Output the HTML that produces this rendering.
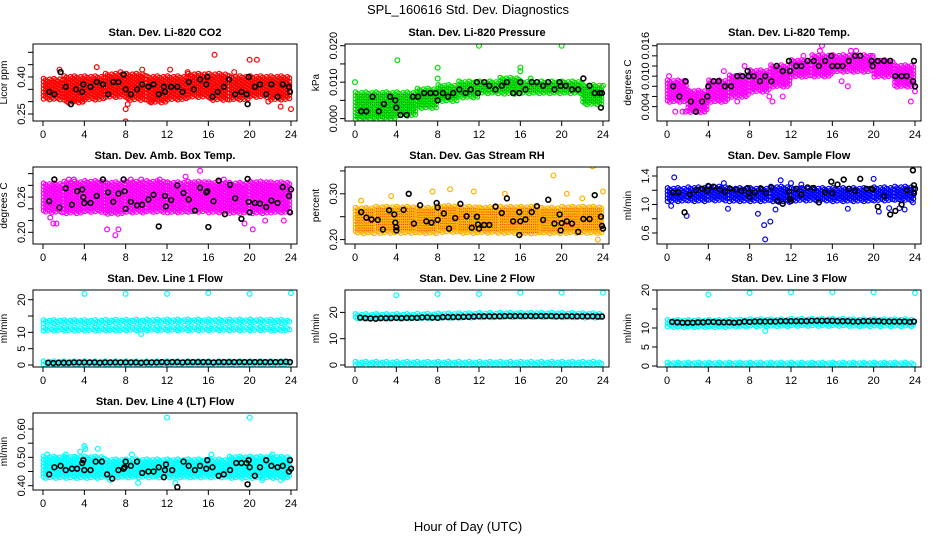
<!DOCTYPE html>
<html><head><meta charset="utf-8"><style>
body{margin:0;background:#fff;}
svg{display:block;font-family:"Liberation Sans",sans-serif;}
</style></head><body>
<svg id="chart" width="936" height="540" viewBox="0 0 936 540" xmlns="http://www.w3.org/2000/svg">
<rect width="936" height="540" fill="#fff"/>
<text x="468" y="14" text-anchor="middle" font-size="13">SPL_160616  Std. Dev. Diagnostics</text>
<text x="468" y="531" text-anchor="middle" font-size="13">Hour of Day (UTC)</text>
</svg>
<script>
// ---------- data (2-hour segments of band low/high, outliers, black points) ----------
const xTicks=[0,4,8,12,16,20,24];
// CO2
const co2Lo=[0.31,0.30,0.31,0.32,0.31,0.30,0.31,0.32,0.31,0.31,0.32,0.31];
const co2Hi=[0.39,0.40,0.40,0.41,0.41,0.40,0.40,0.41,0.41,0.40,0.40,0.40];
const co2OutH=[5.2,8,8,16.6,20,20.7,23,24,12.3,9.6,1.6,7.5,0.5,3.8,8.2,2.9,10.5,14,18.5,21.8];
const co2OutV=[0.44,0.22,0.27,0.49,0.47,0.47,0.28,0.27,0.43,0.43,0.43,0.42,0.33,0.30,0.29,0.30,0.30,0.42,0.42,0.30];
const co2BlkH=[0.6,1.1,1.7,2.2,2.7,3.2,3.8,3.9,4.6,5.2,5.8,6.3,6.8,7.3,7.8,8,8.5,9.1,9.6,10.2,10.7,11.2,11.7,11.8,12.4,13,13.5,14.1,14.6,15.2,15.8,15.9,16.4,16.9,17.5,18,18.6,19.2,19.7,19.8,19.9,20.5,21,21.6,22.1,22.7,23.2,23.8,23.9];
const co2BlkV=[0.34,0.33,0.42,0.36,0.29,0.35,0.34,0.37,0.36,0.38,0.37,0.33,0.38,0.38,0.41,0.35,0.33,0.35,0.37,0.36,0.37,0.33,0.36,0.34,0.36,0.36,0.34,0.38,0.35,0.39,0.37,0.40,0.32,0.34,0.36,0.39,0.33,0.34,0.33,0.29,0.40,0.36,0.37,0.33,0.37,0.32,0.37,0.36,0.34];
// Pressure
const prsLo=[0.000,0.000,0.001,0.003,0.005,0.006,0.007,0.007,0.007,0.007,0.007,0.004];
const prsHi=[0.007,0.007,0.007,0.008,0.009,0.010,0.010,0.011,0.010,0.010,0.010,0.009];
const prsOutH=[0,4.1,8,8,12,16,16,20,24,17,23.8];
const prsOutV=[0.010,0.016,0.014,0.011,0.020,0.014,0.013,0.020,0.009,0.011,0.003];
const prsBlkH=[0.6,1.1,1.7,2.3,2.8,3.4,3.9,4,4.4,5,5.6,6.1,6.7,7.3,7.8,8,8.5,9,9.5,10.1,10.7,11.2,11.8,11.9,12.5,13,13.6,14.2,14.7,15.3,15.9,16,16.5,17.1,17.6,18.2,18.7,19.3,19.8,19.9,20.4,21,21.6,22.1,22.7,23.2,23.7,23.8,23.9];
const prsBlkV=[0.002,0.002,0.006,0.002,0.004,0.006,0.005,0.003,0.001,0.001,0.006,0.006,0.007,0.007,0.007,0.005,0.007,0.006,0.007,0.008,0.007,0.008,0.010,0.007,0.010,0.009,0.008,0.009,0.010,0.007,0.007,0.010,0.008,0.010,0.010,0.009,0.010,0.008,0.010,0.009,0.009,0.008,0.008,0.011,0.009,0.007,0.007,0.003,0.007];
// Li-820 temp
const tmpLo=[0.005,0.003,0.005,0.006,0.007,0.008,0.010,0.010,0.011,0.011,0.010,0.008];
const tmpHi=[0.009,0.007,0.009,0.010,0.011,0.012,0.013,0.014,0.014,0.014,0.013,0.012];
const tmpOutH=[15,14.8,17.8,18.3,19.9,0.8,1.5,1.8,3,3.6,6.8,9.9,10.2,23.6,24,16.9,17.5,11.2,5.5,7.5,13.2,0.2];
const tmpOutV=[0.016,0.015,0.015,0.015,0.014,0.003,0.003,0.003,0.003,0.003,0.005,0.006,0.005,0.005,0.007,0.009,0.008,0.006,0.011,0.012,0.014,0.010];
const tmpBlkH=[0.6,1.2,1.8,2.3,2.8,3.4,3.9,4,4.5,5,5.6,6.2,6.8,7.3,7.8,7.9,8.4,9,9.5,10.1,10.6,11.2,11.8,11.9,12.5,13,13.6,14.2,14.7,15.3,15.9,16,16.5,17,17.6,18.2,18.7,19.8,19.9,20.4,21,21.6,22.1,22.7,23.2,23.8,23.9,24];
const tmpBlkV=[0.008,0.006,0.009,0.005,0.003,0.005,0.006,0.008,0.009,0.009,0.008,0.008,0.010,0.010,0.011,0.010,0.010,0.009,0.010,0.009,0.012,0.011,0.013,0.011,0.012,0.012,0.013,0.013,0.012,0.013,0.014,0.012,0.012,0.012,0.013,0.014,0.014,0.013,0.012,0.013,0.013,0.013,0.010,0.010,0.010,0.009,0.013,0.008];
// Amb box temp
const ambLo=[0.235,0.233,0.235,0.232,0.235,0.236,0.235,0.236,0.235,0.234,0.233,0.235];
const ambHi=[0.282,0.285,0.286,0.284,0.285,0.286,0.284,0.285,0.284,0.283,0.285,0.284];
const ambOutH=[0.7,1,1.3,6.2,7,7.3,15.2,3,8.5,11.3,20.3,23.3,19.5,2.5,9.5,13.8,17.5,21.5];
const ambOutV=[0.225,0.215,0.215,0.205,0.195,0.205,0.305,0.29,0.29,0.29,0.205,0.22,0.215,0.29,0.29,0.295,0.29,0.22];
const ambBlkH=[0.6,1.1,1.6,2.2,2.8,3.3,3.8,3.9,4,4.6,5.2,5.8,6.3,6.8,7.3,7.8,7.9,8,8.5,9.1,9.6,10.2,10.7,11.2,11.8,11.9,12.4,13,13.6,14.1,14.7,15.2,15.8,15.9,16,16.5,17,17.6,18.1,18.6,19.2,19.8,19.9,20,20.5,21,21.6,22.1,22.7,23.2,23.8,23.9,24];
const ambBlkV=[0.253,0.29,0.242,0.275,0.247,0.27,0.273,0.26,0.25,0.25,0.262,0.29,0.268,0.252,0.266,0.29,0.27,0.24,0.252,0.246,0.247,0.256,0.264,0.21,0.262,0.244,0.255,0.28,0.267,0.256,0.237,0.276,0.268,0.27,0.209,0.253,0.288,0.231,0.281,0.258,0.223,0.291,0.252,0.234,0.25,0.249,0.243,0.254,0.25,0.277,0.262,0.234,0.273];
// Gas stream RH
const rhLo=[0.215,0.215,0.216,0.215,0.217,0.215,0.216,0.215,0.214,0.215,0.215,0.216];
const rhHi=[0.268,0.27,0.27,0.268,0.272,0.27,0.269,0.27,0.27,0.268,0.27,0.27];
const rhOutH=[19.2,23,23.5,9.2,0.6,3.5,7.5,11.5,14.5,20.5,22,24];
const rhOutV=[0.34,0.36,0.20,0.31,0.285,0.295,0.305,0.305,0.30,0.30,0.29,0.305];
const rhBlkH=[0.6,1.1,1.6,2.2,2.7,3.3,3.8,3.9,4,4,4.7,5.2,5.7,6.3,6.9,7.4,7.9,8,8,8.6,9.1,9.7,10.2,10.8,11.3,11.8,11.9,12,12.5,13,13.6,14.2,14.7,15.3,15.9,15.9,16,16.5,17.1,17.6,18.2,18.7,19.3,19.8,19.9,20,20.5,21,21.6,22.1,22.7,23.2,23.8,23.9,24];
const rhBlkV=[0.26,0.248,0.244,0.243,0.222,0.264,0.255,0.237,0.22,0.227,0.265,0.30,0.235,0.275,0.24,0.237,0.28,0.27,0.243,0.257,0.224,0.247,0.278,0.251,0.226,0.25,0.233,0.224,0.232,0.232,0.272,0.258,0.29,0.24,0.21,0.26,0.24,0.244,0.26,0.273,0.243,0.287,0.235,0.255,0.22,0.236,0.24,0.235,0.217,0.245,0.245,0.297,0.25,0.23,0.224];
// Sample flow
const sfLo=[1.05,1.05,1.06,1.05,1.05,1.04,1.06,1.06,1.05,1.05,1.06,1.06];
const sfHi=[1.22,1.23,1.24,1.22,1.22,1.24,1.22,1.22,1.22,1.22,1.23,1.24];
const sfOutH=[0.7,0.4,1.9,5.9,8.8,9.4,9.5,10,10.5,11,12,17.5,20,20.5,21.5,22.5,23,23.8,5.5,13];
const sfOutV=[1.38,0.98,0.84,0.94,0.87,0.71,0.51,0.76,0.93,1.34,1.3,0.94,1.36,0.9,0.95,0.95,0.93,1.03,1.3,1.28];
const sfBlkH=[0.6,1.1,1.7,2.2,2.8,3.4,3.9,4,4.5,5.1,5.6,6.1,6.7,7.2,7.8,7.9,8,8.5,9.1,9.6,10.1,10.7,11.2,11.8,11.9,12,12.5,13,13.6,14.2,14.7,15.3,15.9,16,16.5,17.1,17.6,18.2,18.7,19.3,19.8,19.9,20.4,21,21.6,22.1,22.7,23.2,23.8,23.9,24,23.9];
const sfBlkV=[1.17,1.17,0.89,1.14,1.2,1.22,1.19,1.26,1.25,1.21,1.18,1.22,1.21,1.19,1.23,1.17,1.1,1.17,1.22,1.16,1.24,1.05,1.01,1.18,1.08,1.05,1.22,1.14,1.24,1.23,1.03,1.17,1.32,1.16,1.28,1.35,1.22,1.19,1.36,1.22,1.22,1.21,0.97,1.12,0.86,0.91,1.0,1.2,1.48,1.16,1.22,1.27];
// Line flows (shared black-point hours)
const lineHours=[0.5,1,1.5,2,2.5,3,3.5,4,4.5,5,5.5,6,6.5,7,7.5,8,8.5,9,9.5,10,10.5,11,11.5,12,12.5,13,13.5,14,14.5,15,15.5,16,16.5,17,17.5,18,18.5,19,19.5,20,20.5,21,21.5,22,22.5,23,23.5,23.9];
const l1LoA=[12.9,12.9,12.9,13.0,13.0,13.1,13.1,13.1,13.1,13.1,13.1,13.0];
const l1HiA=[13.5,13.5,13.5,13.6,13.6,13.7,13.7,13.7,13.7,13.7,13.7,13.6];
const l1LoB=[10.6,10.6,10.6,10.6,10.7,10.7,10.7,10.7,10.7,10.7,10.7,10.6];
const l1HiB=[11.2,11.2,11.2,11.2,11.3,11.3,11.3,11.3,11.3,11.3,11.3,11.2];
const l1LoC=[0.4,0.4,0.4,0.4,0.4,0.4,0.4,0.4,0.4,0.4,0.4,0.4];
const l1HiC=[0.9,0.9,0.9,0.9,0.9,0.9,0.9,0.9,0.9,0.9,0.9,0.9];
const l1OutH=[4,8,12,16,20,24,9.5];
const l1OutV=[21.8,21.8,21.8,22,21.8,22,9.5];
const l1BlkV=[0.7,0.6,0.7,0.7,0.7,0.8,0.8,0.8,0.8,0.8,0.7,0.8,0.8,0.8,0.8,0.8,0.8,0.8,0.7,0.8,0.8,0.8,0.9,0.8,0.9,0.9,0.8,0.9,0.9,0.9,0.9,0.9,0.8,0.9,0.9,0.9,0.9,0.9,0.9,0.9,0.9,0.9,0.9,0.9,0.9,0.9,1.0,0.9];
const l2LoA=[17.8,17.8,17.8,17.9,18.0,18.1,18.2,18.3,18.3,18.3,18.3,18.2];
const l2HiA=[19.1,19.1,19.1,19.2,19.3,19.4,19.5,19.6,19.6,19.6,19.5,19.4];
const l2LoB=[0.2,0.2,0.2,0.2,0.2,0.2,0.2,0.2,0.2,0.2,0.2,0.2];
const l2HiB=[0.9,0.9,0.9,0.9,0.9,0.9,0.9,0.9,0.9,0.9,0.9,0.9];
const l2OutH=[4,8,12,16,20,24];
const l2OutV=[26.5,27,27,27.5,27.5,27.5];
const l2BlkV=[18.0,17.8,17.7,17.6,17.8,17.8,17.8,17.9,17.8,17.9,17.9,17.9,18.1,18.1,18.0,17.9,18.2,18.2,18.2,18.2,18.3,18.3,18.4,18.5,18.5,18.5,18.5,18.5,18.6,18.6,18.6,18.6,18.6,18.6,18.6,18.6,18.6,18.6,18.5,18.5,18.6,18.5,18.5,18.5,18.5,18.5,18.4,18.4];
const l3LoA=[10.3,10.3,10.4,10.4,10.5,10.5,10.6,10.6,10.6,10.6,10.6,10.5];
const l3HiA=[11.9,11.9,11.9,12.0,12.1,12.1,12.2,12.2,12.2,12.1,12.1,12.1];
const l3LoB=[0.2,0.2,0.2,0.2,0.2,0.2,0.2,0.2,0.2,0.2,0.2,0.2];
const l3HiB=[0.7,0.7,0.7,0.7,0.7,0.7,0.7,0.7,0.7,0.7,0.7,0.7];
const l3OutH=[4,8,12,16,20,24,9.5];
const l3OutV=[18.8,19.2,19.4,19.4,19.4,19.2,9.2];
const l3BlkV=[11.6,11.5,11.4,11.4,11.4,11.5,11.5,11.6,11.6,11.5,11.5,11.5,11.4,11.5,11.7,11.6,11.7,11.7,11.7,11.7,11.7,11.8,11.8,11.8,11.8,11.8,11.8,11.9,11.9,11.9,11.9,11.9,11.8,11.8,11.8,11.7,11.7,11.8,11.8,11.8,11.8,11.7,11.7,11.7,11.7,11.7,11.6,11.7];
// Line 4
const l4Lo=[0.43,0.43,0.43,0.43,0.43,0.43,0.43,0.43,0.43,0.43,0.43,0.43];
const l4Hi=[0.50,0.50,0.50,0.49,0.49,0.49,0.49,0.49,0.49,0.50,0.50,0.50];
const l4OutH=[12,20,4,4.1,5.3,3.6,9.2,12.8,21.2,23,0.4,2.2,6.5,8.6,16.3,22.2];
const l4OutV=[0.64,0.64,0.54,0.53,0.53,0.52,0.41,0.41,0.42,0.42,0.51,0.51,0.42,0.51,0.51,0.51];
const l4BlkH=[0.6,1.1,1.7,2.2,2.8,3.3,3.8,3.9,4,4.6,5.1,5.7,6.2,6.7,7.3,7.8,7.9,8,8.5,9.1,9.6,10.2,10.7,11.2,11.7,11.8,11.9,12.5,13,13.6,14.1,14.7,15.2,15.8,15.9,16.4,17,17.5,18.1,18.7,19.2,19.7,19.8,19.9,20,20.5,21,21.6,22.1,22.7,23.2,23.8,23.9,24];
const l4BlkV=[0.44,0.465,0.47,0.455,0.46,0.46,0.48,0.49,0.455,0.455,0.485,0.485,0.44,0.425,0.455,0.46,0.465,0.485,0.47,0.485,0.445,0.45,0.45,0.465,0.43,0.455,0.475,0.455,0.395,0.485,0.47,0.455,0.47,0.46,0.49,0.465,0.435,0.44,0.455,0.48,0.48,0.48,0.405,0.49,0.465,0.435,0.465,0.49,0.47,0.465,0.47,0.45,0.49,0.46];

// ---------- panels ----------
const panels=[
 {id:'co2',title:'Stan. Dev. Li-820 CO2',ylab:'Licor ppm',col:0,row:0,cal:[0.25,114,0.40,77],ticks:[0.25,0.30,0.35,0.40,0.45,0.50],labels:[0.25,0.40],fmt:2,color:'#ff0000',bands:[[co2Lo,co2Hi]],outH:co2OutH,outV:co2OutV,bH:co2BlkH,bV:co2BlkV},
 {id:'pressure',title:'Stan. Dev. Li-820 Pressure',ylab:'kPa',col:1,row:0,cal:[0,118.6,0.02,45.7],ticks:[0,0.005,0.01,0.015,0.02],labels:[0,0.01,0.02],fmt:3,color:'#00e000',dot:'#006000',bands:[[prsLo,prsHi]],outH:prsOutH,outV:prsOutV,bH:prsBlkH,bV:prsBlkV},
 {id:'li820-temp',title:'Stan. Dev. Li-820 Temp.',ylab:'degrees C',col:2,row:0,cal:[0.004,106.6,0.016,45.7],ticks:[0.004,0.006,0.008,0.010,0.012,0.014,0.016],labels:[0.004,0.010,0.016],fmt:3,color:'#ff00ff',bands:[[tmpLo,tmpHi]],outH:tmpOutH,outV:tmpOutV,bH:tmpBlkH,bV:tmpBlkV},
 {id:'amb-box-temp',title:'Stan. Dev. Amb. Box Temp.',ylab:'degrees C',col:0,row:1,cal:[0.20,232.3,0.26,197.1],ticks:[0.20,0.22,0.24,0.26,0.28,0.30],labels:[0.20,0.26],fmt:2,color:'#ff00ff',bands:[[ambLo,ambHi]],outH:ambOutH,outV:ambOutV,bH:ambBlkH,bV:ambBlkV},
 {id:'gas-stream-rh',title:'Stan. Dev. Gas Stream RH',ylab:'percent',col:1,row:1,cal:[0.20,239.6,0.30,193.8],ticks:[0.20,0.25,0.30,0.35],labels:[0.20,0.30],fmt:2,color:'#ffb000',dot:'#ff0000',bands:[[rhLo,rhHi]],outH:rhOutH,outV:rhOutV,bH:rhBlkH,bV:rhBlkV},
 {id:'sample-flow',title:'Stan. Dev. Sample Flow',ylab:'ml/min',col:2,row:1,cal:[0.6,233,1.4,176],ticks:[0.6,0.8,1.0,1.2,1.4],labels:[0.6,1.0,1.4],fmt:1,color:'#0000ff',bands:[[sfLo,sfHi]],outH:sfOutH,outV:sfOutV,bH:sfBlkH,bV:sfBlkV},
 {id:'line1-flow',title:'Stan. Dev. Line 1 Flow',ylab:'ml/min',col:0,row:2,cal:[0,365,20,299.7],ticks:[0,5,10,15,20],labels:[0,5,10,20],fmt:0,color:'#00ffff',bands:[[l1LoA,l1HiA],[l1LoB,l1HiB],[l1LoC,l1HiC]],outH:l1OutH,outV:l1OutV,bH:lineHours,bV:l1BlkV},
 {id:'line2-flow',title:'Stan. Dev. Line 2 Flow',ylab:'ml/min',col:1,row:2,cal:[0,365,20,312.4],ticks:[0,10,20],labels:[0,10,20],fmt:0,color:'#00ffff',bands:[[l2LoA,l2HiA],[l2LoB,l2HiB]],outH:l2OutH,outV:l2OutV,bH:lineHours,bV:l2BlkV},
 {id:'line3-flow',title:'Stan. Dev. Line 3 Flow',ylab:'ml/min',col:2,row:2,cal:[0,366,20,290],ticks:[0,5,10,15,20],labels:[0,5,10,20],fmt:0,color:'#00ffff',bands:[[l3LoA,l3HiA],[l3LoB,l3HiB]],outH:l3OutH,outV:l3OutV,bH:lineHours,bV:l3BlkV},
 {id:'line4-flow',title:'Stan. Dev. Line 4 (LT) Flow',ylab:'ml/min',col:0,row:3,cal:[0.40,485.7,0.60,429],ticks:[0.40,0.45,0.50,0.55,0.60],labels:[0.40,0.50,0.60],fmt:2,color:'#00ffff',bands:[[l4Lo,l4Hi]],outH:l4OutH,outV:l4OutV,bH:l4BlkH,bV:l4BlkV}
];
const NS='http://www.w3.org/2000/svg';
const svg=document.getElementById('chart');
function mk(tag,attrs,parent){const e=document.createElementNS(NS,tag);for(const k in attrs)e.setAttribute(k,attrs[k]);parent.appendChild(e);return e;}
const colLeft=[33,345,657],rowTop=[44,167,290,413],W=264,H=77;
panels.forEach(p=>{
 const L=colLeft[p.col],T=rowTop[p.row],B=T+H,R=L+W;
 const xs=h=>L+10+h*248/24;
 const ys=v=>p.cal[1]+(v-p.cal[0])*(p.cal[3]-p.cal[1])/(p.cal[2]-p.cal[0]);
 const g=mk('g',{},svg);
 
 
 const clip=mk('clipPath',{id:'c-'+p.id},g);mk('rect',{x:L,y:T,width:W,height:H},clip);
 const t=mk('text',{x:L+W/2,y:T-8,'text-anchor':'middle','font-size':'11','font-weight':'bold'},g);t.textContent=p.title;
 
 
 const yl=mk('text',{x:0,y:0,'text-anchor':'middle','font-size':'10',transform:`translate(${L-26},${T+H/2}) rotate(-90)`},g);yl.textContent=p.ylab;
 
 
 const marks=mk('g',{'clip-path':`url(#c-${p.id})`,fill:'none','stroke-width':'1.2'},g);
 
 
 // bands (rendering texture for band extents)
 p.bands.forEach(bd=>{
  const lo=bd[0],hi=bd[1];
  for(let s=0;s<lo.length;s++){
   const y1=ys(lo[s]),y2=ys(hi[s]);
   const top=Math.min(y1,y2),bot=Math.max(y1,y2);
   for(let k=0;k<10;k++){
    const h=s*2+k*0.2+0.05;
    const off=((k*7)%5)*0.7;
    for(let y=top+off-1;y<=bot+1;y+=3.4){
     mk('circle',{cx:xs(h).toFixed(1),cy:y.toFixed(1),r:2.2,stroke:p.color},marks);
    }
   }
   if(p.dot){for(let k=0;k<10;k++){const h=s*2+k*0.2+0.05;for(let y=top+1;y<=bot-1;y+=2.6){mk('rect',{x:xs(h).toFixed(1),y:y.toFixed(1),width:0.8,height:0.8,fill:p.dot,stroke:'none'},marks);}}}
  }
 });
 p.outH.forEach((h,i)=>{const c=mk('circle',{cx:xs(h),cy:ys(p.outV[i]),r:2.4,stroke:p.color},marks);
  
  });
 p.bH.forEach((h,i)=>{const c=mk('circle',{cx:xs(h),cy:ys(p.bV[i]),r:2.4,stroke:'#000','stroke-width':'1.6'},marks);
  
  });
 mk('rect',{x:L,y:T,width:W,height:H,fill:'none',stroke:'#000','stroke-width':'1'},g);
 // x axis
 const xa=mk('g',{stroke:'#000','stroke-width':'1'},g);
 
 
 mk('line',{x1:xs(0),x2:xs(24),y1:B,y2:B},xa);
 xTicks.forEach(v=>{mk('line',{x1:xs(v),x2:xs(v),y1:B,y2:B+5},xa);
  const tl=mk('text',{x:xs(v),y:B+17,'text-anchor':'middle','font-size':'11',stroke:'none',fill:'#000'},xa);tl.textContent=v;});
 // y axis
 const ya=mk('g',{stroke:'#000','stroke-width':'1'},g);
 
 
 mk('line',{x1:L,x2:L,y1:ys(p.ticks[0]),y2:ys(p.ticks[p.ticks.length-1])},ya);
 p.ticks.forEach(v=>{mk('line',{x1:L-5,x2:L,y1:ys(v),y2:ys(v)},ya);});
 p.labels.forEach(v=>{const tl=mk('text',{x:0,y:0,'text-anchor':'middle','font-size':'11',stroke:'none',fill:'#000',transform:`translate(${L-8},${ys(v)}) rotate(-90)`},ya);tl.textContent=v.toFixed(p.fmt);});
});
</script>
</body></html>
